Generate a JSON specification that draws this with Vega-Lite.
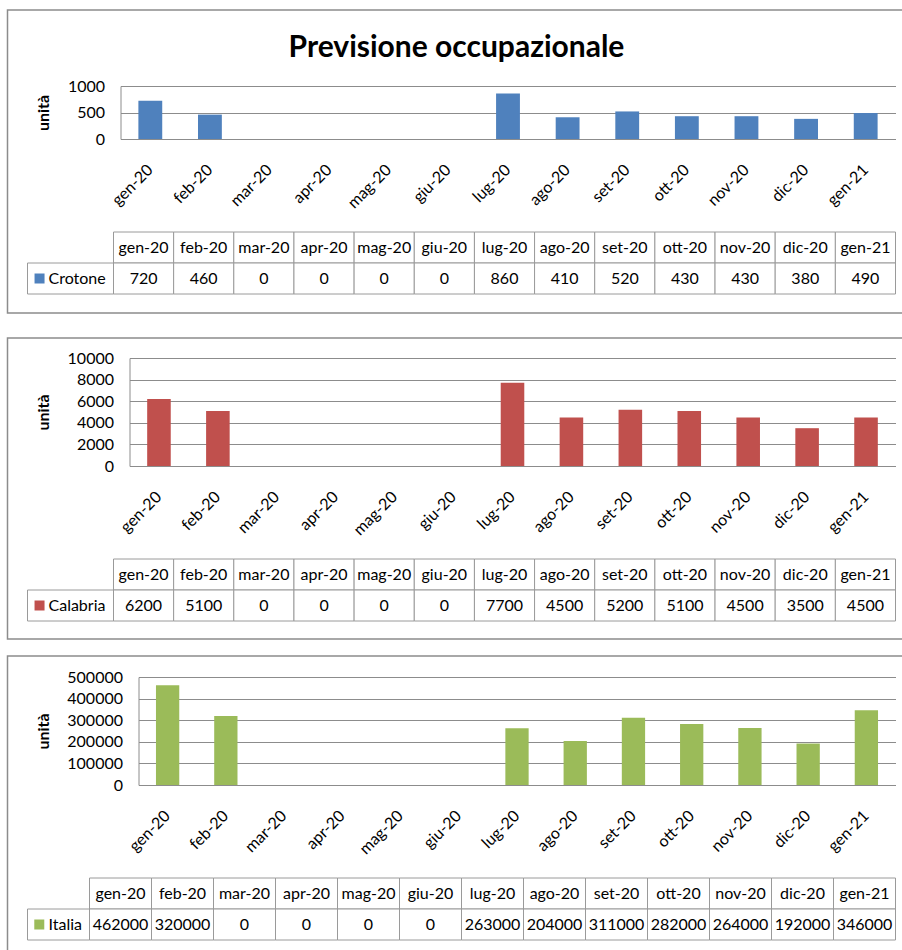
{
  "$schema": "https://vega.github.io/schema/vega-lite/v6.json",
  "padding": {"left": 6.5, "top": 9, "right": 0, "bottom": 0},
  "background": "white",
  "config": {
    "font": "Lato",
    "view": {"stroke": "#8c8c8c", "strokeWidth": 1.5},
    "axis": {"labelFontSize": 16, "labelColor": "#000000", "titleColor": "#000000", "labelFont": "Lato", "titleFont": "Lato"},
    "text": {"fontSize": 16, "color": "#000000", "font": "Lato"}
  },
  "data": {"values": [
    {"area": "Crotone", "mese": "gen-20", "valore": 720},
    {"area": "Crotone", "mese": "feb-20", "valore": 460},
    {"area": "Crotone", "mese": "mar-20", "valore": 0},
    {"area": "Crotone", "mese": "apr-20", "valore": 0},
    {"area": "Crotone", "mese": "mag-20", "valore": 0},
    {"area": "Crotone", "mese": "giu-20", "valore": 0},
    {"area": "Crotone", "mese": "lug-20", "valore": 860},
    {"area": "Crotone", "mese": "ago-20", "valore": 410},
    {"area": "Crotone", "mese": "set-20", "valore": 520},
    {"area": "Crotone", "mese": "ott-20", "valore": 430},
    {"area": "Crotone", "mese": "nov-20", "valore": 430},
    {"area": "Crotone", "mese": "dic-20", "valore": 380},
    {"area": "Crotone", "mese": "gen-21", "valore": 490},
    {"area": "Calabria", "mese": "gen-20", "valore": 6200},
    {"area": "Calabria", "mese": "feb-20", "valore": 5100},
    {"area": "Calabria", "mese": "mar-20", "valore": 0},
    {"area": "Calabria", "mese": "apr-20", "valore": 0},
    {"area": "Calabria", "mese": "mag-20", "valore": 0},
    {"area": "Calabria", "mese": "giu-20", "valore": 0},
    {"area": "Calabria", "mese": "lug-20", "valore": 7700},
    {"area": "Calabria", "mese": "ago-20", "valore": 4500},
    {"area": "Calabria", "mese": "set-20", "valore": 5200},
    {"area": "Calabria", "mese": "ott-20", "valore": 5100},
    {"area": "Calabria", "mese": "nov-20", "valore": 4500},
    {"area": "Calabria", "mese": "dic-20", "valore": 3500},
    {"area": "Calabria", "mese": "gen-21", "valore": 4500},
    {"area": "Italia", "mese": "gen-20", "valore": 462000},
    {"area": "Italia", "mese": "feb-20", "valore": 320000},
    {"area": "Italia", "mese": "mar-20", "valore": 0},
    {"area": "Italia", "mese": "apr-20", "valore": 0},
    {"area": "Italia", "mese": "mag-20", "valore": 0},
    {"area": "Italia", "mese": "giu-20", "valore": 0},
    {"area": "Italia", "mese": "lug-20", "valore": 263000},
    {"area": "Italia", "mese": "ago-20", "valore": 204000},
    {"area": "Italia", "mese": "set-20", "valore": 311000},
    {"area": "Italia", "mese": "ott-20", "valore": 282000},
    {"area": "Italia", "mese": "nov-20", "valore": 264000},
    {"area": "Italia", "mese": "dic-20", "valore": 192000},
    {"area": "Italia", "mese": "gen-21", "valore": 346000}
  ]},
  "spacing": 23,
  "vconcat": [
    {
      "width": 898, "height": 303,
      "title": {"text": "Previsione occupazionale", "offset": -77, "baseline": "alphabetic", "fontSize": 30, "fontWeight": "bold", "font": "Lato", "color": "#000000", "anchor": "middle"},
      "transform": [{"filter": "datum.area === 'Crotone'"}],
      "resolve": {"scale": {"x": "independent", "y": "independent"}},
      "layer": [
        {
          "mark": {"type": "bar", "color": "#4f81bd"},
          "encoding": {
            "x": {"field": "mese", "type": "nominal", "sort": null,
                  "scale": {"type": "band", "domain": ["gen-20","feb-20","mar-20","apr-20","mag-20","giu-20","lug-20","ago-20","set-20","ott-20","nov-20","dic-20","gen-21"], "range": [113, 888], "paddingInner": 0.6, "paddingOuter": 0.3},
                  "axis": {"title": null, "labelAngle": -45, "labelAlign": "right", "labelBaseline": "middle", "labelPadding": 28, "ticks": false, "domainColor": "#8c8c8c", "grid": false, "offset": -174, "labelOverlap": false}},
            "y": {"field": "valore", "type": "quantitative",
                  "scale": {"domain": [0, 1000], "range": [129, 76], "nice": false},
                  "axis": {"title": "unità", "values": [0, 500, 1000], "format": "d", "offset": -113, "ticks": false, "labelPadding": 16, "grid": true, "gridColor": "#8c8c8c", "gridOpacity": 1, "domainColor": "#8c8c8c", "titleX": -72, "titleBaseline": "alphabetic", "titleFontSize": 16, "titleFontWeight": "bold"}}
          }
        },
        {
          "mark": {"type": "rect", "fill": "white", "stroke": "#9a9a9a", "strokeWidth": 1},
          "encoding": {
            "x": {"field": "mese", "type": "nominal", "sort": null, "scale": {"type": "band", "domain": ["gen-20","feb-20","mar-20","apr-20","mag-20","giu-20","lug-20","ago-20","set-20","ott-20","nov-20","dic-20","gen-21"], "range": [106, 888], "paddingInner": 0, "paddingOuter": 0}, "axis": null},
            "y": {"datum": "h", "type": "nominal", "scale": {"type": "band", "domain": ["h", "d"], "range": [222, 284], "paddingInner": 0, "paddingOuter": 0}, "axis": null}
          }
        },
        {
          "mark": {"type": "rect", "fill": "white", "stroke": "#9a9a9a", "strokeWidth": 1},
          "encoding": {
            "x": {"field": "mese", "type": "nominal", "sort": null, "scale": {"type": "band", "domain": ["gen-20","feb-20","mar-20","apr-20","mag-20","giu-20","lug-20","ago-20","set-20","ott-20","nov-20","dic-20","gen-21"], "range": [106, 888], "paddingInner": 0, "paddingOuter": 0}, "axis": null},
            "y": {"datum": "d", "type": "nominal", "scale": {"type": "band", "domain": ["h", "d"], "range": [222, 284], "paddingInner": 0, "paddingOuter": 0}, "axis": null}
          }
        },
        {
          "mark": {"type": "text", "align": "center", "baseline": "middle"},
          "encoding": {
            "x": {"field": "mese", "type": "nominal", "sort": null, "bandPosition": 0.5, "scale": {"type": "band", "domain": ["gen-20","feb-20","mar-20","apr-20","mag-20","giu-20","lug-20","ago-20","set-20","ott-20","nov-20","dic-20","gen-21"], "range": [106, 888], "paddingInner": 0, "paddingOuter": 0}, "axis": null},
            "y": {"datum": "h", "type": "nominal", "bandPosition": 0.5, "scale": {"type": "band", "domain": ["h", "d"], "range": [222, 284], "paddingInner": 0, "paddingOuter": 0}, "axis": null},
            "text": {"field": "mese"}
          }
        },
        {
          "mark": {"type": "text", "align": "center", "baseline": "middle"},
          "encoding": {
            "x": {"field": "mese", "type": "nominal", "sort": null, "bandPosition": 0.5, "scale": {"type": "band", "domain": ["gen-20","feb-20","mar-20","apr-20","mag-20","giu-20","lug-20","ago-20","set-20","ott-20","nov-20","dic-20","gen-21"], "range": [106, 888], "paddingInner": 0, "paddingOuter": 0}, "axis": null},
            "y": {"datum": "d", "type": "nominal", "bandPosition": 0.5, "scale": {"type": "band", "domain": ["h", "d"], "range": [222, 284], "paddingInner": 0, "paddingOuter": 0}, "axis": null},
            "text": {"field": "valore", "format": "d"}
          }
        },
        {
          "transform": [{"filter": "datum.mese === 'gen-20'"}],
          "mark": {"type": "rect", "fill": "white", "stroke": "#9a9a9a", "strokeWidth": 1},
          "encoding": {
            "x": {"field": "area", "type": "nominal", "scale": {"type": "band", "range": [20, 106], "paddingInner": 0, "paddingOuter": 0}, "axis": null},
            "y": {"datum": "d", "type": "nominal", "scale": {"type": "band", "domain": ["h", "d"], "range": [222, 284], "paddingInner": 0, "paddingOuter": 0}, "axis": null}
          }
        },
        {
          "transform": [{"filter": "datum.mese === 'gen-20'"}],
          "mark": {"type": "point", "shape": "square", "filled": true, "size": 100, "color": "#4f81bd", "opacity": 1},
          "encoding": {
            "x": {"field": "area", "type": "nominal", "bandPosition": 0.14, "scale": {"type": "band", "range": [20, 106], "paddingInner": 0, "paddingOuter": 0}, "axis": null},
            "y": {"datum": "d", "type": "nominal", "bandPosition": 0.5, "scale": {"type": "band", "domain": ["h", "d"], "range": [222, 284], "paddingInner": 0, "paddingOuter": 0}, "axis": null}
          }
        },
        {
          "transform": [{"filter": "datum.mese === 'gen-20'"}],
          "mark": {"type": "text", "align": "left", "baseline": "middle", "dx": 21},
          "encoding": {
            "x": {"field": "area", "type": "nominal", "bandPosition": 0, "scale": {"type": "band", "range": [20, 106], "paddingInner": 0, "paddingOuter": 0}, "axis": null},
            "y": {"datum": "d", "type": "nominal", "bandPosition": 0.5, "scale": {"type": "band", "domain": ["h", "d"], "range": [222, 284], "paddingInner": 0, "paddingOuter": 0}, "axis": null},
            "text": {"field": "area"}
          }
        }
      ]
    },
    {
      "spacing": 15,
      "vconcat": [
        {
          "width": 898, "height": 301,
          "transform": [{"filter": "datum.area === 'Calabria'"}],
          "resolve": {"scale": {"x": "independent", "y": "independent"}},
          "layer": [
            {
              "mark": {"type": "bar", "color": "#c0504d"},
              "encoding": {
                "x": {"field": "mese", "type": "nominal", "sort": null,
                      "scale": {"type": "band", "domain": ["gen-20","feb-20","mar-20","apr-20","mag-20","giu-20","lug-20","ago-20","set-20","ott-20","nov-20","dic-20","gen-21"], "range": [122, 888], "paddingInner": 0.6, "paddingOuter": 0.3},
                      "axis": {"title": null, "labelAngle": -45, "labelAlign": "right", "labelBaseline": "middle", "labelPadding": 28, "ticks": false, "domainColor": "#8c8c8c", "grid": false, "offset": -173, "labelOverlap": false}},
                "y": {"field": "valore", "type": "quantitative",
                      "scale": {"domain": [0, 10000], "range": [128, 20], "nice": false},
                      "axis": {"title": "unità", "values": [0, 2000, 4000, 6000, 8000, 10000], "format": "d", "offset": -122, "ticks": false, "labelPadding": 16, "grid": true, "gridColor": "#8c8c8c", "gridOpacity": 1, "domainColor": "#8c8c8c", "titleX": -81, "titleBaseline": "alphabetic", "titleFontSize": 16, "titleFontWeight": "bold"}}
              }
            },
            {
              "mark": {"type": "rect", "fill": "white", "stroke": "#9a9a9a", "strokeWidth": 1},
              "encoding": {
                "x": {"field": "mese", "type": "nominal", "sort": null, "scale": {"type": "band", "domain": ["gen-20","feb-20","mar-20","apr-20","mag-20","giu-20","lug-20","ago-20","set-20","ott-20","nov-20","dic-20","gen-21"], "range": [106, 888], "paddingInner": 0, "paddingOuter": 0}, "axis": null},
                "y": {"datum": "h", "type": "nominal", "scale": {"type": "band", "domain": ["h", "d"], "range": [221, 283], "paddingInner": 0, "paddingOuter": 0}, "axis": null}
              }
            },
            {
              "mark": {"type": "rect", "fill": "white", "stroke": "#9a9a9a", "strokeWidth": 1},
              "encoding": {
                "x": {"field": "mese", "type": "nominal", "sort": null, "scale": {"type": "band", "domain": ["gen-20","feb-20","mar-20","apr-20","mag-20","giu-20","lug-20","ago-20","set-20","ott-20","nov-20","dic-20","gen-21"], "range": [106, 888], "paddingInner": 0, "paddingOuter": 0}, "axis": null},
                "y": {"datum": "d", "type": "nominal", "scale": {"type": "band", "domain": ["h", "d"], "range": [221, 283], "paddingInner": 0, "paddingOuter": 0}, "axis": null}
              }
            },
            {
              "mark": {"type": "text", "align": "center", "baseline": "middle"},
              "encoding": {
                "x": {"field": "mese", "type": "nominal", "sort": null, "bandPosition": 0.5, "scale": {"type": "band", "domain": ["gen-20","feb-20","mar-20","apr-20","mag-20","giu-20","lug-20","ago-20","set-20","ott-20","nov-20","dic-20","gen-21"], "range": [106, 888], "paddingInner": 0, "paddingOuter": 0}, "axis": null},
                "y": {"datum": "h", "type": "nominal", "bandPosition": 0.5, "scale": {"type": "band", "domain": ["h", "d"], "range": [221, 283], "paddingInner": 0, "paddingOuter": 0}, "axis": null},
                "text": {"field": "mese"}
              }
            },
            {
              "mark": {"type": "text", "align": "center", "baseline": "middle"},
              "encoding": {
                "x": {"field": "mese", "type": "nominal", "sort": null, "bandPosition": 0.5, "scale": {"type": "band", "domain": ["gen-20","feb-20","mar-20","apr-20","mag-20","giu-20","lug-20","ago-20","set-20","ott-20","nov-20","dic-20","gen-21"], "range": [106, 888], "paddingInner": 0, "paddingOuter": 0}, "axis": null},
                "y": {"datum": "d", "type": "nominal", "bandPosition": 0.5, "scale": {"type": "band", "domain": ["h", "d"], "range": [221, 283], "paddingInner": 0, "paddingOuter": 0}, "axis": null},
                "text": {"field": "valore", "format": "d"}
              }
            },
            {
              "transform": [{"filter": "datum.mese === 'gen-20'"}],
              "mark": {"type": "rect", "fill": "white", "stroke": "#9a9a9a", "strokeWidth": 1},
              "encoding": {
                "x": {"field": "area", "type": "nominal", "scale": {"type": "band", "range": [20, 106], "paddingInner": 0, "paddingOuter": 0}, "axis": null},
                "y": {"datum": "d", "type": "nominal", "scale": {"type": "band", "domain": ["h", "d"], "range": [221, 283], "paddingInner": 0, "paddingOuter": 0}, "axis": null}
              }
            },
            {
              "transform": [{"filter": "datum.mese === 'gen-20'"}],
              "mark": {"type": "point", "shape": "square", "filled": true, "size": 100, "color": "#c0504d", "opacity": 1},
              "encoding": {
                "x": {"field": "area", "type": "nominal", "bandPosition": 0.14, "scale": {"type": "band", "range": [20, 106], "paddingInner": 0, "paddingOuter": 0}, "axis": null},
                "y": {"datum": "d", "type": "nominal", "bandPosition": 0.5, "scale": {"type": "band", "domain": ["h", "d"], "range": [221, 283], "paddingInner": 0, "paddingOuter": 0}, "axis": null}
              }
            },
            {
              "transform": [{"filter": "datum.mese === 'gen-20'"}],
              "mark": {"type": "text", "align": "left", "baseline": "middle", "dx": 21},
              "encoding": {
                "x": {"field": "area", "type": "nominal", "bandPosition": 0, "scale": {"type": "band", "range": [20, 106], "paddingInner": 0, "paddingOuter": 0}, "axis": null},
                "y": {"datum": "d", "type": "nominal", "bandPosition": 0.5, "scale": {"type": "band", "domain": ["h", "d"], "range": [221, 283], "paddingInner": 0, "paddingOuter": 0}, "axis": null},
                "text": {"field": "area"}
              }
            }
          ]
        },
        {
          "width": 898, "height": 300,
          "transform": [{"filter": "datum.area === 'Italia'"}],
          "resolve": {"scale": {"x": "independent", "y": "independent"}},
          "layer": [
            {
              "mark": {"type": "bar", "color": "#9bbb59"},
              "encoding": {
                "x": {"field": "mese", "type": "nominal", "sort": null,
                      "scale": {"type": "band", "domain": ["gen-20","feb-20","mar-20","apr-20","mag-20","giu-20","lug-20","ago-20","set-20","ott-20","nov-20","dic-20","gen-21"], "range": [131, 888], "paddingInner": 0.6, "paddingOuter": 0.3},
                      "axis": {"title": null, "labelAngle": -45, "labelAlign": "right", "labelBaseline": "middle", "labelPadding": 28, "ticks": false, "domainColor": "#8c8c8c", "grid": false, "offset": -171, "labelOverlap": false}},
                "y": {"field": "valore", "type": "quantitative",
                      "scale": {"domain": [0, 500000], "range": [129, 21], "nice": false},
                      "axis": {"title": "unità", "values": [0, 100000, 200000, 300000, 400000, 500000], "format": "d", "offset": -131, "ticks": false, "labelPadding": 16, "grid": true, "gridColor": "#8c8c8c", "gridOpacity": 1, "domainColor": "#8c8c8c", "titleX": -90, "titleBaseline": "alphabetic", "titleFontSize": 16, "titleFontWeight": "bold"}}
              }
            },
            {
              "mark": {"type": "rect", "fill": "white", "stroke": "#9a9a9a", "strokeWidth": 1},
              "encoding": {
                "x": {"field": "mese", "type": "nominal", "sort": null, "scale": {"type": "band", "domain": ["gen-20","feb-20","mar-20","apr-20","mag-20","giu-20","lug-20","ago-20","set-20","ott-20","nov-20","dic-20","gen-21"], "range": [82, 888], "paddingInner": 0, "paddingOuter": 0}, "axis": null},
                "y": {"datum": "h", "type": "nominal", "scale": {"type": "band", "domain": ["h", "d"], "range": [222, 284], "paddingInner": 0, "paddingOuter": 0}, "axis": null}
              }
            },
            {
              "mark": {"type": "rect", "fill": "white", "stroke": "#9a9a9a", "strokeWidth": 1},
              "encoding": {
                "x": {"field": "mese", "type": "nominal", "sort": null, "scale": {"type": "band", "domain": ["gen-20","feb-20","mar-20","apr-20","mag-20","giu-20","lug-20","ago-20","set-20","ott-20","nov-20","dic-20","gen-21"], "range": [82, 888], "paddingInner": 0, "paddingOuter": 0}, "axis": null},
                "y": {"datum": "d", "type": "nominal", "scale": {"type": "band", "domain": ["h", "d"], "range": [222, 284], "paddingInner": 0, "paddingOuter": 0}, "axis": null}
              }
            },
            {
              "mark": {"type": "text", "align": "center", "baseline": "middle"},
              "encoding": {
                "x": {"field": "mese", "type": "nominal", "sort": null, "bandPosition": 0.5, "scale": {"type": "band", "domain": ["gen-20","feb-20","mar-20","apr-20","mag-20","giu-20","lug-20","ago-20","set-20","ott-20","nov-20","dic-20","gen-21"], "range": [82, 888], "paddingInner": 0, "paddingOuter": 0}, "axis": null},
                "y": {"datum": "h", "type": "nominal", "bandPosition": 0.5, "scale": {"type": "band", "domain": ["h", "d"], "range": [222, 284], "paddingInner": 0, "paddingOuter": 0}, "axis": null},
                "text": {"field": "mese"}
              }
            },
            {
              "mark": {"type": "text", "align": "center", "baseline": "middle"},
              "encoding": {
                "x": {"field": "mese", "type": "nominal", "sort": null, "bandPosition": 0.5, "scale": {"type": "band", "domain": ["gen-20","feb-20","mar-20","apr-20","mag-20","giu-20","lug-20","ago-20","set-20","ott-20","nov-20","dic-20","gen-21"], "range": [82, 888], "paddingInner": 0, "paddingOuter": 0}, "axis": null},
                "y": {"datum": "d", "type": "nominal", "bandPosition": 0.5, "scale": {"type": "band", "domain": ["h", "d"], "range": [222, 284], "paddingInner": 0, "paddingOuter": 0}, "axis": null},
                "text": {"field": "valore", "format": "d"}
              }
            },
            {
              "transform": [{"filter": "datum.mese === 'gen-20'"}],
              "mark": {"type": "rect", "fill": "white", "stroke": "#9a9a9a", "strokeWidth": 1},
              "encoding": {
                "x": {"field": "area", "type": "nominal", "scale": {"type": "band", "range": [20, 82], "paddingInner": 0, "paddingOuter": 0}, "axis": null},
                "y": {"datum": "d", "type": "nominal", "scale": {"type": "band", "domain": ["h", "d"], "range": [222, 284], "paddingInner": 0, "paddingOuter": 0}, "axis": null}
              }
            },
            {
              "transform": [{"filter": "datum.mese === 'gen-20'"}],
              "mark": {"type": "point", "shape": "square", "filled": true, "size": 100, "color": "#9bbb59", "opacity": 1},
              "encoding": {
                "x": {"field": "area", "type": "nominal", "bandPosition": 0.19, "scale": {"type": "band", "range": [20, 82], "paddingInner": 0, "paddingOuter": 0}, "axis": null},
                "y": {"datum": "d", "type": "nominal", "bandPosition": 0.5, "scale": {"type": "band", "domain": ["h", "d"], "range": [222, 284], "paddingInner": 0, "paddingOuter": 0}, "axis": null}
              }
            },
            {
              "transform": [{"filter": "datum.mese === 'gen-20'"}],
              "mark": {"type": "text", "align": "left", "baseline": "middle", "dx": 21},
              "encoding": {
                "x": {"field": "area", "type": "nominal", "bandPosition": 0, "scale": {"type": "band", "range": [20, 82], "paddingInner": 0, "paddingOuter": 0}, "axis": null},
                "y": {"datum": "d", "type": "nominal", "bandPosition": 0.5, "scale": {"type": "band", "domain": ["h", "d"], "range": [222, 284], "paddingInner": 0, "paddingOuter": 0}, "axis": null},
                "text": {"field": "area"}
              }
            }
          ]
        }
      ]
    }
  ]
}
